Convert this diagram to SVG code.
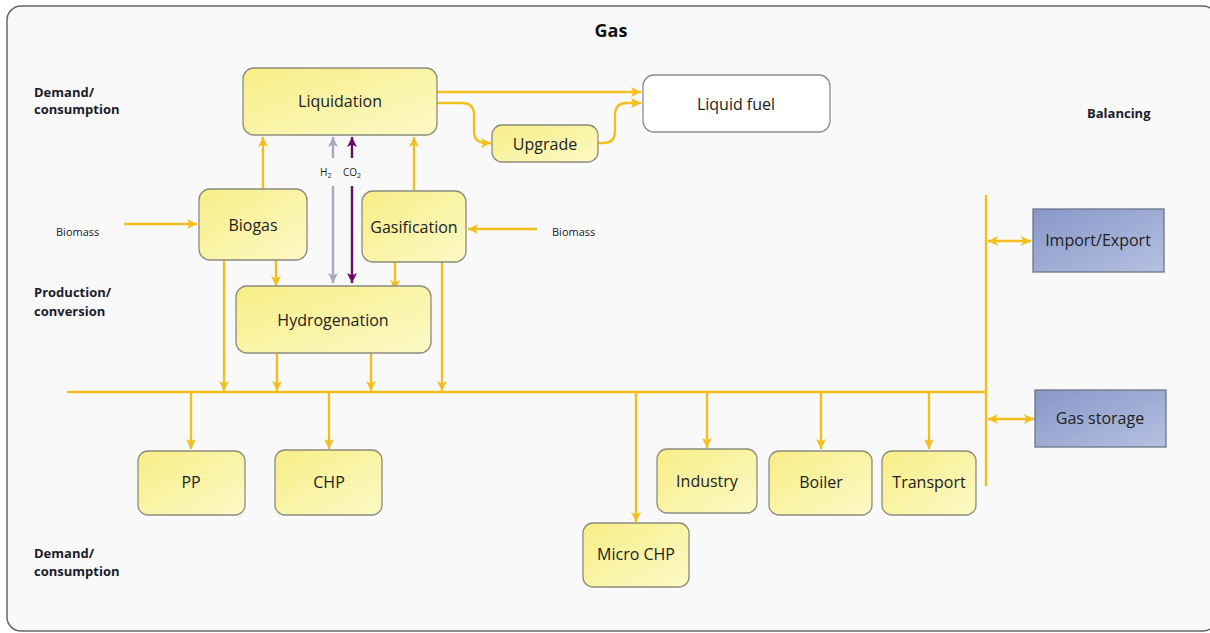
<svg xmlns="http://www.w3.org/2000/svg" width="1210" height="633" viewBox="0 0 1210 633">
<defs>
<linearGradient id="gy" x1="0" y1="0" x2="1" y2="1">
<stop offset="0" stop-color="#f7ee86"/>
<stop offset="1" stop-color="#fcf9c6"/>
</linearGradient>
<linearGradient id="gb" x1="0" y1="0" x2="1" y2="1">
<stop offset="0" stop-color="#8797c8"/>
<stop offset="1" stop-color="#b5c1e1"/>
</linearGradient>
<marker id="ay" viewBox="0 0 10 10" refX="10" refY="5" markerWidth="10" markerHeight="10" markerUnits="userSpaceOnUse" orient="auto-start-reverse">
<path d="M0,0 L10,5 L0,10 L2.5,5 z" fill="#f2c01e"/>
</marker>
<marker id="ag" viewBox="0 0 10 10" refX="10" refY="5" markerWidth="10" markerHeight="10" markerUnits="userSpaceOnUse" orient="auto-start-reverse">
<path d="M0,0 L10,5 L0,10 L2.5,5 z" fill="#a8a8be"/>
</marker>
<marker id="ap" viewBox="0 0 10 10" refX="10" refY="5" markerWidth="10" markerHeight="10" markerUnits="userSpaceOnUse" orient="auto-start-reverse">
<path d="M0,0 L10,5 L0,10 L2.5,5 z" fill="#6a0b6a"/>
</marker>
</defs>
<style>
.ny{fill:url(#gy);stroke:#8c8c7c;stroke-width:1.3}
.nb{fill:url(#gb);stroke:#6c7488;stroke-width:1.3}
.nw{fill:#ffffff;stroke:#8c8c8c;stroke-width:1.3}
.t{font-family:"Open Sans","Liberation Sans",sans-serif;font-size:16px;fill:#222;text-anchor:middle;dominant-baseline:central}
.lb{font-family:"Open Sans","Liberation Sans",sans-serif;font-size:13px;font-weight:bold;fill:#1c1c2a}
.sm{font-family:"Open Sans","Liberation Sans",sans-serif;font-size:11px;fill:#222}
.gas{font-family:"Open Sans","Liberation Sans",sans-serif;font-size:10px;fill:#222}
.cy{fill:none;stroke:#f2c01e;stroke-width:2.4}
.cg{fill:none;stroke:#a8a8be;stroke-width:2.4}
.cp{fill:none;stroke:#6a0b6a;stroke-width:2.4}
</style>
<rect x="0" y="0" width="1210" height="633" fill="#ffffff"/>
<rect x="7" y="6" width="1210" height="625" rx="14" fill="#f9f9f9" stroke="#666" stroke-width="1.5"/>
<text x="611" y="37" text-anchor="middle" font-family="'Open Sans','Liberation Sans',sans-serif" font-size="18" font-weight="bold" fill="#111">Gas</text>
<g id="labels">
<text class="lb" x="34" y="97">Demand/</text>
<text class="lb" x="34" y="114">consumption</text>
<text class="lb" x="34" y="297">Production/</text>
<text class="lb" x="34" y="316">conversion</text>
<text class="lb" x="34" y="558">Demand/</text>
<text class="lb" x="34" y="576">consumption</text>
<text class="lb" x="1087" y="118">Balancing</text>
<text class="sm" x="56" y="236">Biomass</text>
<text class="sm" x="552" y="236">Biomass</text>
<text class="gas" x="320" y="176">H<tspan font-size="7" dy="2">2</tspan></text>
<text class="gas" x="343" y="176">CO<tspan font-size="7" dy="2">2</tspan></text>
</g>
<g id="connectors">
<line class="cy" x1="67" y1="392" x2="987" y2="392"/>
<line class="cy" x1="986" y1="195" x2="986" y2="486"/>
<line class="cy" x1="437" y1="92" x2="641" y2="92" marker-end="url(#ay)"/>
<path class="cy" d="M437,103 H462 Q474,103 474,115 V131 Q474,143 486,143 H491" marker-end="url(#ay)"/>
<path class="cy" d="M598,143 H604 Q615,143 615,131 V115 Q615,103 627,103 H641" marker-end="url(#ay)"/>
<line class="cy" x1="124" y1="224" x2="197" y2="224" marker-end="url(#ay)"/>
<line class="cy" x1="537" y1="229" x2="468" y2="229" marker-end="url(#ay)"/>
<line class="cy" x1="263" y1="189" x2="263" y2="137" marker-end="url(#ay)"/>
<line class="cy" x1="414" y1="191" x2="414" y2="137" marker-end="url(#ay)"/>
<line class="cg" x1="333" y1="158" x2="333" y2="137" marker-end="url(#ag)"/>
<line class="cg" x1="333" y1="186" x2="333" y2="283" marker-end="url(#ag)"/>
<line class="cp" x1="352" y1="158" x2="352" y2="137" marker-end="url(#ap)"/>
<line class="cp" x1="352" y1="186" x2="352" y2="283" marker-end="url(#ap)"/>
<line class="cy" x1="276" y1="260" x2="276" y2="286" marker-end="url(#ay)"/>
<line class="cy" x1="395" y1="262" x2="395" y2="290" marker-end="url(#ay)"/>
<line class="cy" x1="224" y1="260" x2="224" y2="391" marker-end="url(#ay)"/>
<line class="cy" x1="277" y1="353" x2="277" y2="391" marker-end="url(#ay)"/>
<line class="cy" x1="371" y1="353" x2="371" y2="391" marker-end="url(#ay)"/>
<line class="cy" x1="442" y1="262" x2="442" y2="391" marker-end="url(#ay)"/>
<line class="cy" x1="191" y1="392" x2="191" y2="449" marker-end="url(#ay)"/>
<line class="cy" x1="329" y1="392" x2="329" y2="449" marker-end="url(#ay)"/>
<line class="cy" x1="636" y1="392" x2="636" y2="522" marker-end="url(#ay)"/>
<line class="cy" x1="707" y1="392" x2="707" y2="448" marker-end="url(#ay)"/>
<line class="cy" x1="821" y1="392" x2="821" y2="449" marker-end="url(#ay)"/>
<line class="cy" x1="929" y1="392" x2="929" y2="449" marker-end="url(#ay)"/>
<line class="cy" x1="988" y1="241" x2="1031" y2="241" marker-start="url(#ay)" marker-end="url(#ay)"/>
<line class="cy" x1="988" y1="419" x2="1034" y2="419" marker-start="url(#ay)" marker-end="url(#ay)"/>
</g>
<g id="n-liquidation"><rect class="ny" x="243" y="68" width="194" height="67" rx="11"/><text class="t" x="340" y="101">Liquidation</text></g>
<g id="n-liquidfuel"><rect class="nw" x="643" y="75" width="187" height="57" rx="11"/><text class="t" x="736" y="104">Liquid fuel</text></g>
<g id="n-upgrade"><rect class="ny" x="492" y="125" width="106" height="37" rx="10"/><text class="t" x="545" y="144">Upgrade</text></g>
<g id="n-biogas"><rect class="ny" x="199" y="189" width="108" height="71" rx="11"/><text class="t" x="253" y="225">Biogas</text></g>
<g id="n-gasification"><rect class="ny" x="362" y="191" width="104" height="71" rx="11"/><text class="t" x="414" y="227">Gasification</text></g>
<g id="n-hydrogenation"><rect class="ny" x="236" y="286" width="195" height="67" rx="11"/><text class="t" x="333" y="320">Hydrogenation</text></g>
<g id="n-pp"><rect class="ny" x="138" y="451" width="107" height="64" rx="10"/><text class="t" x="191" y="482">PP</text></g>
<g id="n-chp"><rect class="ny" x="275" y="450" width="107" height="65" rx="10"/><text class="t" x="329" y="482">CHP</text></g>
<g id="n-microchp"><rect class="ny" x="583" y="523" width="106" height="64" rx="10"/><text class="t" x="636" y="554">Micro CHP</text></g>
<g id="n-industry"><rect class="ny" x="657" y="449" width="100" height="64" rx="10"/><text class="t" x="707" y="481">Industry</text></g>
<g id="n-boiler"><rect class="ny" x="769" y="451" width="103" height="64" rx="10"/><text class="t" x="821" y="482">Boiler</text></g>
<g id="n-transport"><rect class="ny" x="882" y="451" width="94" height="64" rx="10"/><text class="t" x="929" y="482">Transport</text></g>
<g id="n-importexport"><rect class="nb" x="1033" y="209" width="131" height="63"/><text class="t" x="1098" y="240">Import/Export</text></g>
<g id="n-gasstorage"><rect class="nb" x="1035" y="390" width="131" height="57"/><text class="t" x="1100" y="418">Gas storage</text></g>
</svg>
